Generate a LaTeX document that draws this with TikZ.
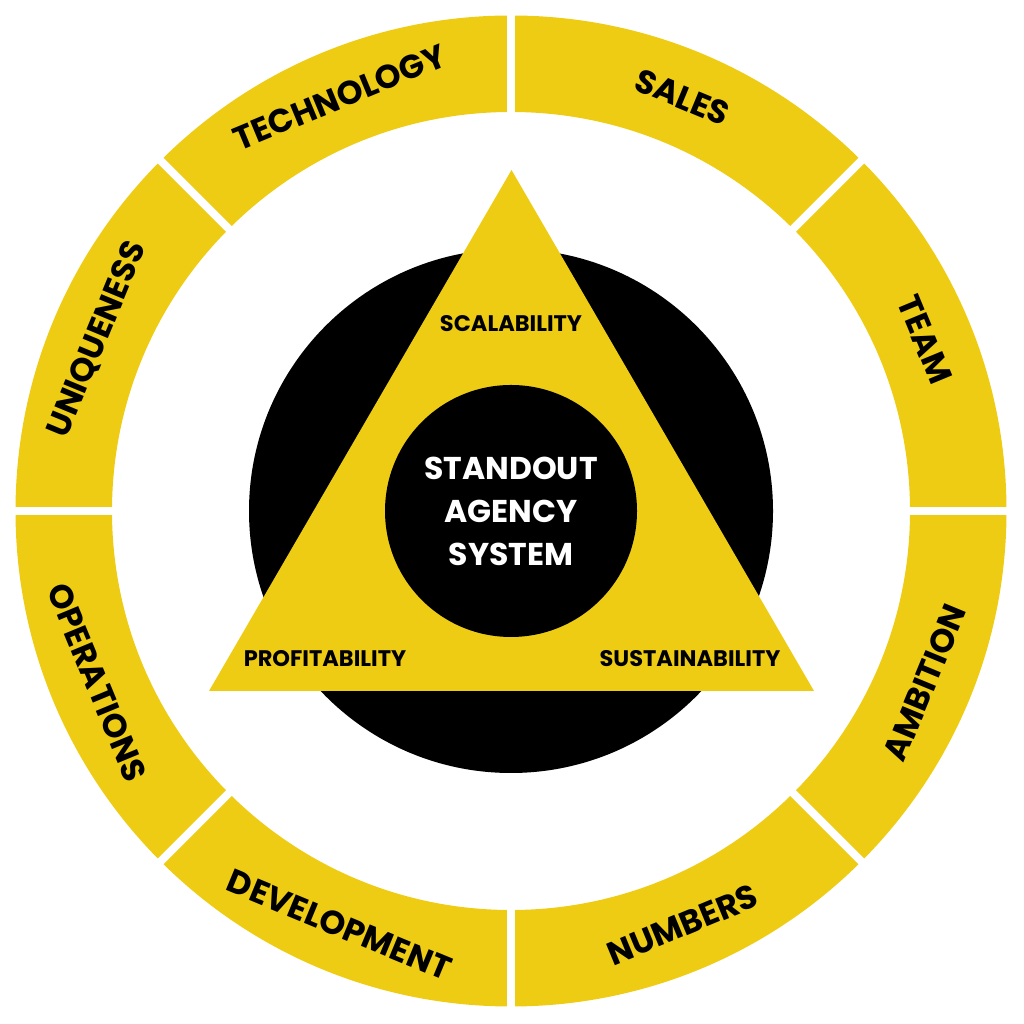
\documentclass[tikz,border=0pt]{standalone}
\usepackage{fontspec}
\setmainfont{Poppins}
\usetikzlibrary{calc}
\definecolor{ylw}{RGB}{238,204,20}
\tikzset{
  ringlbl/.style={font=\fontsize{33}{33}\selectfont\bfseries, text=black, inner sep=0pt},
  trilbl/.style={font=\fontsize{22.5}{23}\selectfont\bfseries, text=black, inner sep=0pt},
  centerlbl/.style={font=\fontsize{31.5}{43}\selectfont\bfseries, text=white, align=center, inner sep=0pt},
  gap/.style={white, line width=8pt}
}
\begin{document}
\begin{tikzpicture}[x=1pt,y=1pt]
\useasboundingbox (0,0) rectangle (1024,1024);
\coordinate (c) at (511,513);
% outer ring
\fill[ylw, even odd rule] (c) circle (495.5) (c) circle (399);
\foreach \a in {0,45,...,315} {
  \draw[gap] ($(c)+(\a:390)$) -- ($(c)+(\a:505)$);
}
% black disc
\fill[black] (c) circle (262);
% triangle
\coordinate (tl) at (209,333);
\coordinate (tt) at (511.5,854);
\coordinate (tr) at (814,333);
\fill[ylw] (tl) -- (tt) -- (tr) -- cycle;
% inner disc
\fill[black] (c) circle (126);
% ring labels
\node[ringlbl, rotate=-67.5] (team) at ($(c)+(22.5:448)$) {TEAM};
\node[ringlbl, rotate=-22.5] (sales) at ($(c)+(67.5:448)$) {SALES};
\node[ringlbl, rotate=22.5] (tech) at ($(c)+(112.5:448)$) {TECHNOLOGY};
\node[ringlbl, rotate=67.5] (uniq) at ($(c)+(157.5:448)$) {UNIQUENESS};
\node[ringlbl, rotate=-67.5] (oper) at ($(c)+(202.5:448)$) {OPERATIONS};
\node[ringlbl, rotate=-22.5] (dev) at ($(c)+(247.5:448)$) {DEVELOPMENT};
\node[ringlbl, rotate=22.5] (num) at ($(c)+(292.5:448)$) {NUMBERS};
\node[ringlbl, rotate=67.5] (amb) at ($(c)+(337.5:448)$) {AMBITION};
% triangle labels
\node[trilbl] (scal) at (511,700) {SCALABILITY};
\node[trilbl] (prof) at (325,365) {PROFITABILITY};
\node[trilbl] (sust) at (690,365) {SUSTAINABILITY};
% center
\node[centerlbl] (sas) at (511,513) {STANDOUT\\AGENCY\\SYSTEM};
\end{tikzpicture}
\end{document}
